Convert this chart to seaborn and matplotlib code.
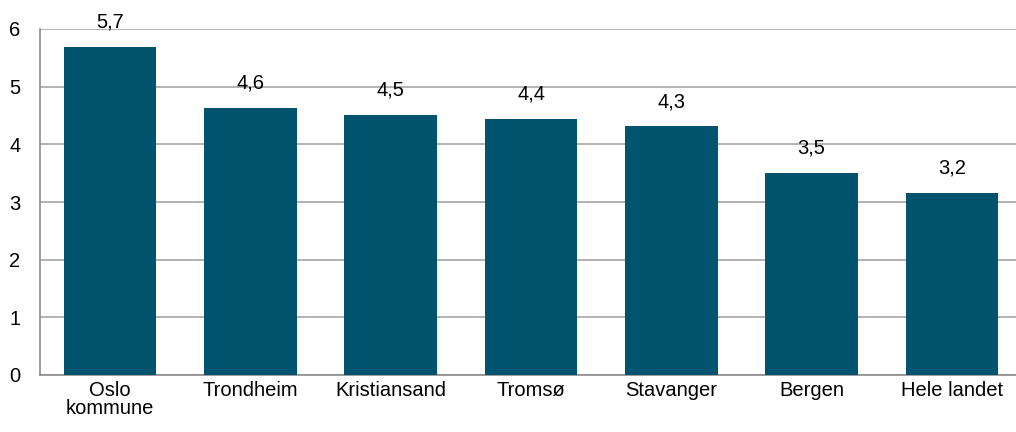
import matplotlib
matplotlib.use("Agg")
import matplotlib.pyplot as plt
import seaborn as sns
import pandas as pd
import numpy as np

categories = ["Oslo\nkommune", "Trondheim", "Kristiansand", "Tromsø", "Stavanger", "Bergen", "Hele landet"]
values = [5.69, 4.63, 4.51, 4.44, 4.31, 3.51, 3.16]
y_ticks = [0, 1, 2, 3, 4, 5, 6]

sns.set_theme(style="white")
plt.rcParams['font.family'] = ['Liberation Sans', 'DejaVu Sans']
plt.rcParams['text.color'] = 'black'
plt.rcParams['xtick.color'] = 'black'
plt.rcParams['ytick.color'] = 'black'

df = pd.DataFrame({"kategori": categories, "verdi": values})

fig = plt.figure(figsize=(10.16, 4.32), dpi=100)
ax = fig.add_axes([40/1016, (432-375)/432, (1022-40)/1016, 346/432])

sns.barplot(data=df, x="kategori", y="verdi", color="#02546E", width=0.66,
            saturation=1, ax=ax, zorder=3, linewidth=0)

ax.set_ylim(0, 6)
ax.set_xlim(-0.5, len(categories) - 0.5)
ax.set_yticks(y_ticks)
ax.set_yticklabels([str(t) for t in y_ticks], fontsize=14.5)
ax.yaxis.grid(True, color="#A6A6A6", linewidth=1.2, zorder=0)
ax.set_axisbelow(True)

ax.set_xlabel("")
ax.set_ylabel("")
ax.tick_params(axis="x", which="major", length=0, labelsize=14.5, pad=4, labelcolor="black")
for lbl in ax.get_xticklabels():
    lbl.set_linespacing(0.95)
ax.set_xticks(np.arange(len(categories) - 1) + 0.5, minor=True)
ax.tick_params(axis="x", which="minor", length=6, color="#8C8C8C", width=1.2, direction="out")
ax.tick_params(axis="y", which="major", length=6, color="#8C8C8C", width=1.2, direction="out", pad=8, labelcolor="black")

for s in ["top", "right"]:
    ax.spines[s].set_visible(False)
for s in ["left", "bottom"]:
    ax.spines[s].set_color("#8C8C8C")
    ax.spines[s].set_linewidth(1.2)

labels = [f"{v:.1f}".replace(".", ",") for v in values]
ax.bar_label(ax.containers[0], labels=labels, padding=11, fontsize=14.5, color="black")

fig.savefig("out.png", dpi=100)
